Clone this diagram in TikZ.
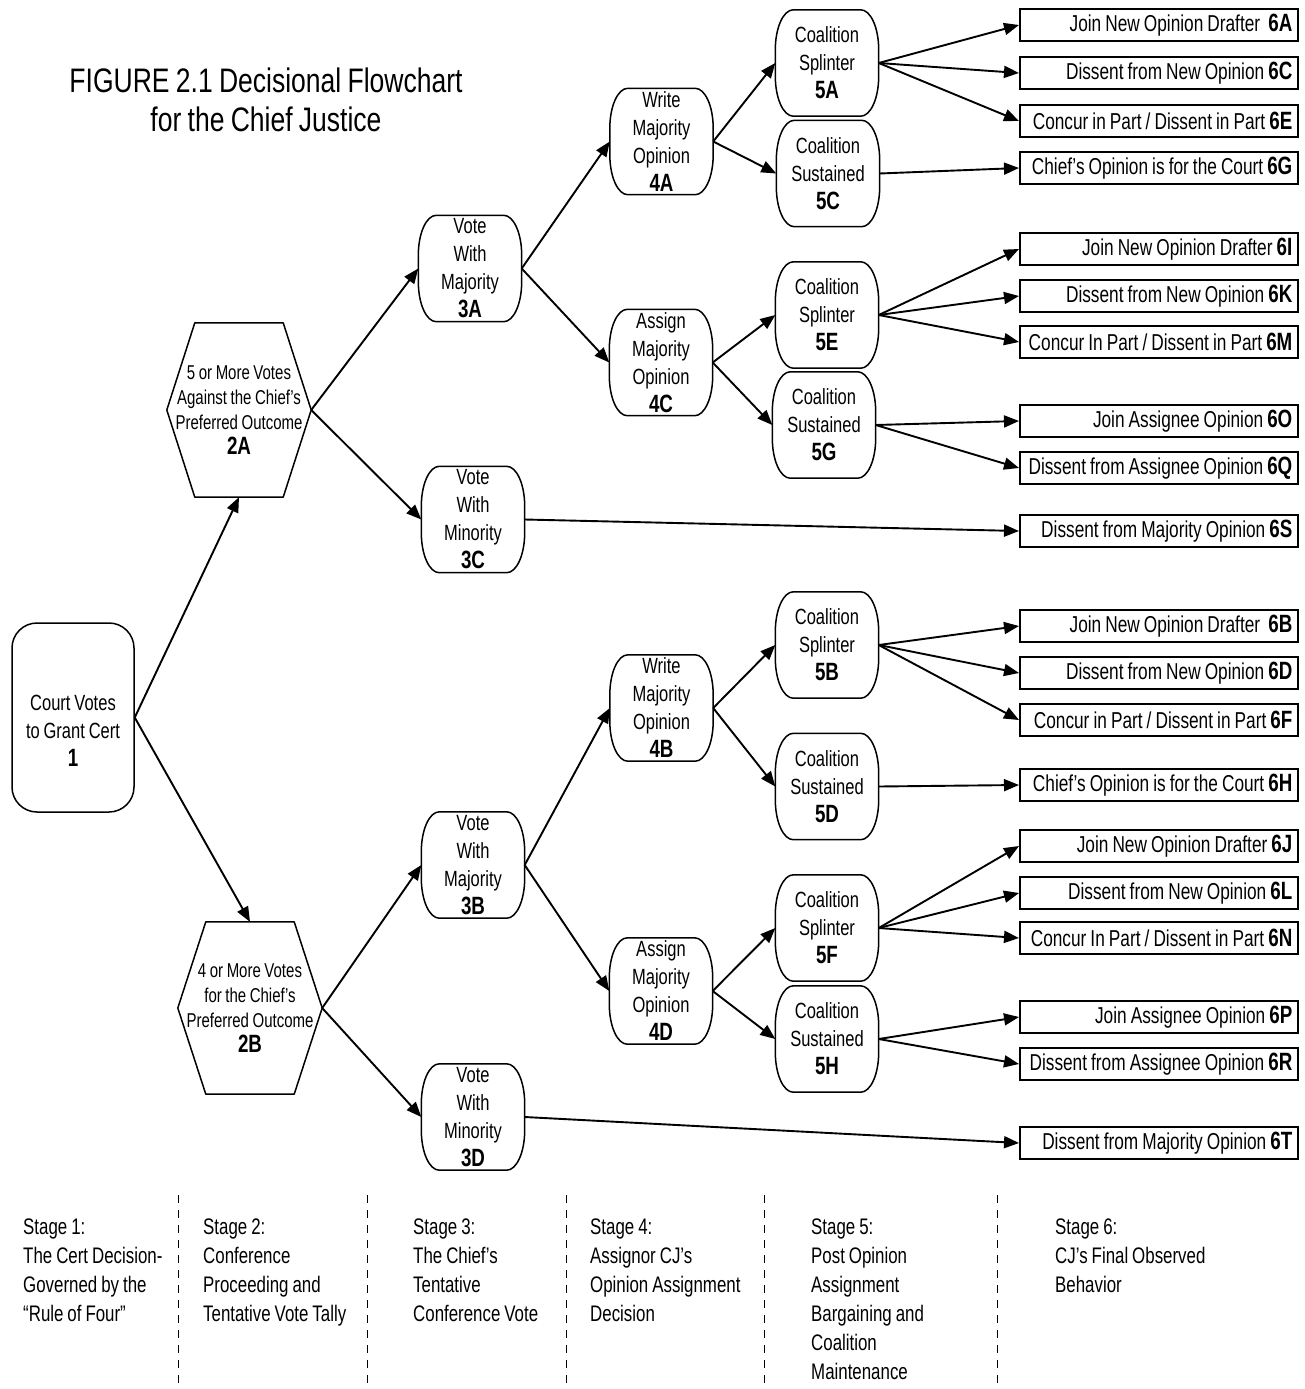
\documentclass[tikz,border=0pt]{standalone}
\usepackage{fontspec}
\setmainfont[FakeStretch=0.75,WordSpace=0.85]{Liberation Sans}
\newfontfamily\titlefont[FakeStretch=0.78,WordSpace=0.85]{Liberation Sans}
\usetikzlibrary{arrows.meta}
\newcommand\lab[1]{{\fontsize{25}{28}\selectfont\bfseries #1}}
\newcommand\rtxt[1]{\hbox to 267pt{\hfil #1}}
\newcommand\barrelshape[1]{%
  \draw[outline] ([xshift=18pt]#1.north west) -- ([xshift=-18pt]#1.north east)
    arc[start angle=90,end angle=0,x radius=18pt,y radius=40pt]
    -- ([yshift=40pt]#1.south east)
    arc[start angle=0,end angle=-90,x radius=18pt,y radius=40pt]
    -- ([xshift=18pt]#1.south west)
    arc[start angle=270,end angle=180,x radius=18pt,y radius=40pt]
    -- ([yshift=-40pt]#1.north west)
    arc[start angle=180,end angle=90,x radius=18pt,y radius=40pt] -- cycle;}
\newcommand\hexshape[1]{%
  \draw[outline] (#1.west) -- ([xshift=28pt]#1.north west) -- ([xshift=-28pt]#1.north east)
    -- (#1.east) -- ([xshift=-28pt]#1.south east) -- ([xshift=28pt]#1.south west) -- cycle;}
\begin{document}
\begin{tikzpicture}[x=1pt,y=-1pt,
  outline/.style={line width=1.5pt, line join=round},
  barrel/.style={minimum width=103pt, minimum height=106pt, inner sep=0pt, align=center,
    font=\fontsize{22}{28}\selectfont},
  hexa/.style={minimum width=144pt, minimum height=174pt, inner sep=0pt, align=center,
    font=\fontsize{20}{25}\selectfont},
  res/.style={draw, line width=1.6pt, minimum width=278pt, minimum height=32pt, inner xsep=5pt,
    inner ysep=0pt, anchor=west, font=\fontsize{23}{28}\selectfont},
  arr/.style={line width=1.9pt, -{Triangle[length=15pt,width=12pt]}},
  stage/.style={anchor=north west, align=left, inner sep=0pt, font=\fontsize{22.5}{29}\selectfont},
  sep/.style={line width=1pt, dash pattern=on 8pt off 7pt}
]
\useasboundingbox[fill=white] (0,0) rectangle (1304,1389);

% title
\node[align=center, font=\titlefont\fontsize{34}{39}\selectfont] (title) at (266,100)
  {FIGURE 2.1 Decisional Flowchart\\for the Chief Justice};

% stage 1
\node[draw, line width=1.5pt, rounded corners=25pt, minimum width=122pt, minimum height=189pt] (n1) at (73,717.5) {};
\node[align=center, font=\fontsize{22}{28}\selectfont] (n1t) at (73,731) {Court Votes\\to Grant Cert\\\lab{1}};

% stage 2
\node[hexa] (n2A) at (239,410) {5 or More Votes\\Against the Chief’s\\Preferred Outcome\\\lab{2A}};
\node[hexa, minimum height=172pt] (n2B) at (250,1008) {4 or More Votes\\for the Chief’s\\Preferred Outcome\\\lab{2B}};
\hexshape{n2A}
\hexshape{n2B}

% stage 3
\node[barrel] (n3A) at (470,268.5) {Vote\\With\\Majority\\\lab{3A}};
\node[barrel] (n3C) at (473,519.5) {Vote\\With\\Minority\\\lab{3C}};
\node[barrel] (n3B) at (473,865) {Vote\\With\\Majority\\\lab{3B}};
\node[barrel] (n3D) at (473,1117) {Vote\\With\\Minority\\\lab{3D}};

% stage 4
\node[barrel] (n4A) at (661.5,141.5) {Write\\Majority\\Opinion\\\lab{4A}};
\node[barrel] (n4C) at (661,362.5) {Assign\\Majority\\Opinion\\\lab{4C}};
\node[barrel] (n4B) at (661.5,708) {Write\\Majority\\Opinion\\\lab{4B}};
\node[barrel] (n4D) at (661,991) {Assign\\Majority\\Opinion\\\lab{4D}};

% stage 5
\node[barrel] (n5A) at (827,63) {Coalition\\Splinter\\\lab{5A}};
\node[barrel] (n5C) at (828,173.5) {Coalition\\Sustained\\\lab{5C}};
\node[barrel] (n5E) at (827,315) {Coalition\\Splinter\\\lab{5E}};
\node[barrel] (n5G) at (824,425) {Coalition\\Sustained\\\lab{5G}};
\node[barrel] (n5B) at (827,645) {Coalition\\Splinter\\\lab{5B}};
\node[barrel] (n5D) at (827,786.5) {Coalition\\Sustained\\\lab{5D}};
\node[barrel] (n5F) at (827,928) {Coalition\\Splinter\\\lab{5F}};
\node[barrel] (n5H) at (827,1039) {Coalition\\Sustained\\\lab{5H}};

\foreach \n in {n3A,n3C,n3B,n3D,n4A,n4C,n4B,n4D,n5A,n5C,n5E,n5G,n5B,n5D,n5F,n5H} {\barrelshape{\n}}

% stage 6
\node[res] (n6A) at (1019,25)  {\rtxt{Join New Opinion Drafter\ \ \lab{6A}}};
\node[res] (n6C) at (1019,73)  {\rtxt{Dissent from New Opinion \lab{6C}}};
\node[res] (n6E) at (1019,121) {\rtxt{Concur in Part / Dissent in Part \lab{6E}}};
\node[res] (n6G) at (1019,168) {\rtxt{Chief’s Opinion is for the Court \lab{6G}}};
\node[res] (n6I) at (1019,249) {\rtxt{Join New Opinion Drafter \lab{6I}}};
\node[res] (n6K) at (1019,296) {\rtxt{Dissent from New Opinion \lab{6K}}};
\node[res] (n6M) at (1019,342) {\rtxt{Concur In Part / Dissent in Part \lab{6M}}};
\node[res] (n6O) at (1019,421) {\rtxt{Join Assignee Opinion \lab{6O}}};
\node[res] (n6Q) at (1019,468) {\rtxt{Dissent from Assignee Opinion \lab{6Q}}};
\node[res] (n6S) at (1019,531) {\rtxt{Dissent from Majority Opinion \lab{6S}}};
\node[res] (n6B) at (1019,626) {\rtxt{Join New Opinion Drafter\ \ \lab{6B}}};
\node[res] (n6D) at (1019,673) {\rtxt{Dissent from New Opinion \lab{6D}}};
\node[res] (n6F) at (1019,720) {\rtxt{Concur in Part / Dissent in Part \lab{6F}}};
\node[res] (n6H) at (1019,785) {\rtxt{Chief’s Opinion is for the Court \lab{6H}}};
\node[res] (n6J) at (1019,846) {\rtxt{Join New Opinion Drafter \lab{6J}}};
\node[res] (n6L) at (1019,893) {\rtxt{Dissent from New Opinion \lab{6L}}};
\node[res] (n6N) at (1019,938) {\rtxt{Concur In Part / Dissent in Part \lab{6N}}};
\node[res] (n6P) at (1019,1017) {\rtxt{Join Assignee Opinion \lab{6P}}};
\node[res] (n6R) at (1019,1064) {\rtxt{Dissent from Assignee Opinion \lab{6R}}};
\node[res] (n6T) at (1019,1143) {\rtxt{Dissent from Majority Opinion \lab{6T}}};

% connectors
\draw[arr] (n1.east) -- (n2A.south);
\draw[arr] (n1.east) -- (n2B.north);
\draw[arr] (n2A.east) -- (n3A.west);
\draw[arr] (n2A.east) -- (n3C.west);
\draw[arr] (n2B.east) -- (n3B.west);
\draw[arr] (n2B.east) -- (n3D.west);
\draw[arr] (n3A.east) -- (n4A.west);
\draw[arr] (n3A.east) -- (n4C.west);
\draw[arr] (n3B.east) -- (n4B.west);
\draw[arr] (n3B.east) -- (n4D.west);
\draw[arr] (n3C.east) -- (n6S.west);
\draw[arr] (n3D.east) -- (n6T.west);
\draw[arr] (n4A.east) -- (n5A.west);
\draw[arr] (n4A.east) -- (n5C.west);
\draw[arr] (n4C.east) -- (n5E.west);
\draw[arr] (n4C.east) -- (n5G.west);
\draw[arr] (n4B.east) -- (n5B.west);
\draw[arr] (n4B.east) -- (n5D.west);
\draw[arr] (n4D.east) -- (n5F.west);
\draw[arr] (n4D.east) -- (n5H.west);
\draw[arr] (n5A.east) -- (n6A.west);
\draw[arr] (n5A.east) -- (n6C.west);
\draw[arr] (n5A.east) -- (n6E.west);
\draw[arr] (n5C.east) -- (n6G.west);
\draw[arr] (n5E.east) -- (n6I.west);
\draw[arr] (n5E.east) -- (n6K.west);
\draw[arr] (n5E.east) -- (n6M.west);
\draw[arr] (n5G.east) -- (n6O.west);
\draw[arr] (n5G.east) -- (n6Q.west);
\draw[arr] (n5B.east) -- (n6B.west);
\draw[arr] (n5B.east) -- (n6D.west);
\draw[arr] (n5B.east) -- (n6F.west);
\draw[arr] (n5D.east) -- (n6H.west);
\draw[arr] (n5F.east) -- (n6J.west);
\draw[arr] (n5F.east) -- (n6L.west);
\draw[arr] (n5F.east) -- (n6N.west);
\draw[arr] (n5H.east) -- (n6P.west);
\draw[arr] (n5H.east) -- (n6R.west);

% stage separators
\foreach \x in {178,367,566,764,997} {\draw[sep] (\x,1195) -- (\x,1389);}

% stage texts
\node[stage] (s1) at (23,1219) {Stage 1:\\The Cert Decision-\\Governed by the\\“Rule of Four”};
\node[stage] (s2) at (203,1219) {Stage 2:\\Conference\\Proceeding and\\Tentative Vote Tally};
\node[stage] (s3) at (413,1219) {Stage 3:\\The Chief’s\\Tentative\\Conference Vote};
\node[stage] (s4) at (590,1219) {Stage 4:\\Assignor CJ’s\\Opinion Assignment\\Decision};
\node[stage] (s5) at (811,1219) {Stage 5:\\Post Opinion\\Assignment\\Bargaining and\\Coalition\\Maintenance};
\node[stage] (s6) at (1055,1219) {Stage 6:\\CJ’s Final Observed\\Behavior};
\end{tikzpicture}
\end{document}
